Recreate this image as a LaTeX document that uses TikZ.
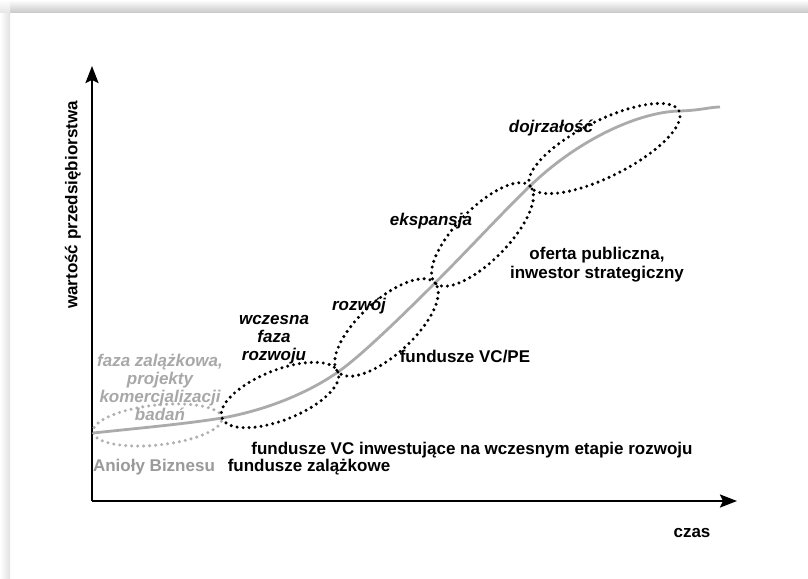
\documentclass[tikz,border=0pt]{standalone}
\usepackage{fontspec}
\setmainfont{Liberation Sans}
\usetikzlibrary{arrows.meta,calc,shapes.geometric}
\definecolor{lgtxt}{HTML}{A8A8A8}
\definecolor{dgtxt}{HTML}{9A9A9A}
\definecolor{curvec}{HTML}{ABABAB}
\definecolor{gellc}{HTML}{B0B0B0}
\newcommand\leafnode[5]{%
  \path let \p1=($(#3)-(#2)$) in
    node[leafsty, draw=#5, rotate={atan2(\y1,\x1)},
         minimum width={veclen(\x1,\y1)}, minimum height={2*#4}]
    (#1) at ($(#2)!0.5!(#3)$) {};}
\begin{document}
\begin{tikzpicture}[x=1pt,y=-1pt,
  lbl/.style={font=\fontsize{17}{18}\selectfont\bfseries, align=center, inner sep=0pt},
  ilbl/.style={font=\fontsize{17}{18}\selectfont\bfseries\itshape, align=center, inner sep=0pt},
  axis/.style={line width=2.4pt, -{Stealth[length=17pt,width=13pt,inset=3pt]}},
  curvesty/.style={draw=curvec, line width=2.8pt},
  leafsty/.style={ellipse, inner sep=0pt, outer sep=0pt, line width=3.4pt,
     dash pattern=on 0pt off 6pt, line cap=round}]
\useasboundingbox (0,0) rectangle (808,578);
\fill[white] (0,0) rectangle (808,578);
\shade[top color=white, bottom color=black!22] (10,0) rectangle (808,13);
\shade[left color=white, right color=black!12] (0,13) rectangle (10,578);
\shade[top color=white, bottom color=black!10] (0,0) rectangle (10,13);

% axes
\coordinate (O) at (92,501);
\coordinate (ytip) at (92,66);
\coordinate (xtip) at (737,501);
\draw[axis] (O) -- (ytip);
\draw[axis] (O) -- (xtip);

% curve points
\coordinate (p0) at (93,432);
\coordinate (p1) at (222,418);
\coordinate (p2) at (338,372);
\coordinate (p3) at (435,283);
\coordinate (p4) at (530,186);
\coordinate (p5) at (679,111);
\coordinate (pend) at (720,107);

\draw[curvesty] (93,433) .. controls (140,428) and (185,424) .. (p1)
  .. controls (262,411) and (305,395) .. (p2)
  .. controls (360,356.7) and (400,318) .. (p3)
  .. controls (470,248) and (500,215) .. (p4)
  .. controls (580,138) and (640,112) .. (p5)
  .. controls (700,110.5) and (710,107) .. (pend);

% ellipses
\leafnode{e0}{p0}{p1}{20}{gellc}
\leafnode{e1}{p1}{p2}{25}{black}
\leafnode{e2}{p2}{p3}{27}{black}
\leafnode{e3}{p3}{p4}{26}{black}
\leafnode{e4}{p4}{p5}{28}{black}

% labels
\node[lbl, rotate=90] (ylab) at (73,205) {wartość przedsiębiorstwa};
\node[lbl] (xlab) at (692,533) {czas};
\node[ilbl] (tdoj) at (551,128) {dojrzałość};
\node[ilbl] (teks) at (431,221) {ekspansja};
\node[ilbl] (troz) at (359,306) {rozwój};
\node[ilbl] (twcz) at (274,340) {wczesna\\faza\\rozwoju};
\node[ilbl, text=lgtxt] (tzal) at (160,387) {faza zalążkowa,\\projekty\\komercjalizacji\\badań};
\node[lbl, text=dgtxt] (tani) at (154,467) {Anioły Biznesu};
\node[lbl] (tfz) at (309,467) {fundusze zalążkowe};
\node[lbl] (tvc) at (472,450) {fundusze VC inwestujące na wczesnym etapie rozwoju};
\node[lbl] (tvcpe) at (465,357) {fundusze VC/PE};
\node[lbl, align=center, font=\fontsize{17}{19}\selectfont\bfseries] (toferta) at (597,265) {oferta publiczna,\\inwestor strategiczny};
\end{tikzpicture}
\end{document}
